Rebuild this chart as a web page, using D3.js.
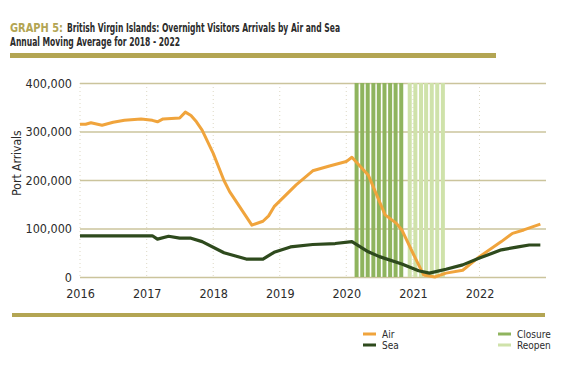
<!DOCTYPE html>
<html>
<head>
<meta charset="utf-8">
<script src="https://cdn.jsdelivr.net/npm/d3@7"></script>
<style>
    body { margin: 0; background: #fff; }
    svg text { font-family: "DejaVu Sans Condensed", "Liberation Sans Narrow", "Roboto", sans-serif; fill: #2b2b2b; }
</style>
</head>
<body>
<svg id="chart" width="575" height="371"></svg>
<script>

    // annual moving average
    var airMonths = ["2016-01","2016-02","2016-03","2016-05","2016-07","2016-09","2016-12","2017-02","2017-03","2017-04",
                     "2017-07","2017-08","2017-09","2017-10","2017-11","2018-01","2018-03","2018-04","2018-08","2018-10",
                     "2018-11","2018-12","2019-04","2019-07","2019-10","2020-01","2020-02","2020-05","2020-08","2020-10",
                     "2020-11","2021-01","2021-03","2021-05","2021-07","2021-10","2022-01","2022-05","2022-07","2022-09","2022-12"];
    var airValues = [315000,315000,318000,313000,319000,323000,326000,323000,320000,326000,
                     328000,340000,333000,320000,303000,255000,199000,176000,107000,115000,
                     126000,145000,190000,219000,229000,238000,247000,210000,128000,111000,
                     97000,49000,4000,0,8000,14000,42000,73000,90000,97000,109000];

    var seaMonths = ["2016-01","2017-02","2017-03","2017-05","2017-07","2017-09","2017-11","2018-03","2018-07","2018-10",
                     "2018-12","2019-03","2019-07","2019-11","2020-02","2020-05","2020-07","2020-11","2021-02","2021-04",
                     "2021-07","2021-10","2022-01","2022-05","2022-08","2022-10","2022-12"];
    var seaValues = [85000,85000,78000,84000,80000,80000,73000,50000,37000,37000,
                     51000,62000,67000,69000,73000,52000,42000,27000,13000,8000,
                     16000,25000,39000,56000,62000,66000,66000];

    var closureMonths = ["2020-03","2020-04","2020-05","2020-06","2020-07","2020-08","2020-09","2020-10","2020-11"];
    var reopenMonths  = ["2020-12","2021-01","2021-02","2021-03","2021-04","2021-05","2021-06"];

    var yearTicks = [2016, 2017, 2018, 2019, 2020, 2021, 2022];
    var valueTicks = [0, 100000, 200000, 300000, 400000];

    var colors = {
        gold    : "#b3a553",
        grid    : "#cbc49c",
        air     : "#f0a43c",
        sea     : "#2e4a1d",
        closure : "#8fb45e",
        reopen  : "#cfe2aa"
    };

    var parse = d3.timeParse("%Y-%m");

    var svg = d3.select("#chart");

    var x = d3.scaleTime()
        .domain([new Date(2016, 0, 1), new Date(2023, 0, 1)])
        .range([80, 546]);

    var y = d3.scaleLinear()
        .domain([0, 400000])
        .range([277, 83]);

    function zip (months, values) {
        return months.map(function (m, i) { return { date: parse(m), value: values[i] }; });
    }

    // header, squeezed to the width of the condensed face in the original
    function heading (txt, px, py, width, color) {
        return svg.append("text")
            .attr("x", px)
            .attr("y", py)
            .attr("textLength", width)
            .attr("lengthAdjust", "spacingAndGlyphs")
            .style("font-size", "12px")
            .style("font-weight", "bold")
            .style("fill", color || "#2b2b2b")
            .text(txt);
    }

    heading("GRAPH 5:", 10, 31.5, 53, colors.gold);
    heading("British Virgin Islands: Overnight Visitors Arrivals by Air and Sea", 67, 31.5, 273);
    heading("Annual Moving Average for 2018 - 2022", 10, 45.5, 170);

    svg.append("rect")
        .attr("x", 10).attr("y", 53)
        .attr("width", 486).attr("height", 5)
        .attr("fill", colors.gold);

    svg.append("rect")
        .attr("x", 12).attr("y", 313)
        .attr("width", 533).attr("height", 4)
        .attr("fill", colors.gold);

    // faint dotted year lines
    svg.append("g")
        .selectAll("line")
        .data(yearTicks)
        .enter()
        .append("line")
        .attr("x1", function (d) { return x(new Date(d, 0, 1)); })
        .attr("x2", function (d) { return x(new Date(d, 0, 1)); })
        .attr("y1", y(400000))
        .attr("y2", y(0))
        .attr("stroke", "#ddd8c4")
        .attr("stroke-width", 1)
        .attr("stroke-dasharray", "1,3");

    // horizontal grid + value labels
    var yAxis = svg.append("g")
        .attr("transform", "translate(80,0)")
        .call(d3.axisLeft(y)
            .tickValues(valueTicks)
            .tickSize(-466)
            .tickPadding(8)
            .tickFormat(d3.format(",")));

    yAxis.select(".domain").remove();
    yAxis.selectAll(".tick line").attr("stroke", colors.grid).attr("stroke-width", 1.3);
    yAxis.selectAll(".tick text").style("font-size", "12.5px").attr("fill", "#2b2b2b");

    var xAxis = svg.append("g")
        .attr("transform", "translate(0,283)")
        .call(d3.axisBottom(x)
            .tickValues(yearTicks.map(function (d) { return new Date(d, 0, 1); }))
            .tickSize(0)
            .tickPadding(6)
            .tickFormat(d3.timeFormat("%Y")));

    xAxis.select(".domain").remove();
    xAxis.selectAll(".tick text").style("font-size", "12.5px").attr("fill", "#2b2b2b");

    svg.append("text")
        .attr("transform", "translate(21,163) rotate(-90)")
        .attr("text-anchor", "middle")
        .style("font-size", "12px")
        .text("Port Arrivals");

    // closure / reopen stripes, one per month
    function stripes (months, color, shift) {
        svg.append("g")
            .selectAll("rect")
            .data(months.map(parse))
            .enter()
            .append("rect")
            .attr("x", function (d) { return x(d) + shift; })
            .attr("y", y(400000))
            .attr("width", 4)
            .attr("height", y(0) - y(400000))
            .attr("fill", color);
    }

    stripes(closureMonths, colors.closure, -2.6);
    stripes(reopenMonths, colors.reopen, 0.4);

    var line = d3.line()
        .x(function (d) { return x(d.date); })
        .y(function (d) { return y(d.value); });

    svg.append("path")
        .datum(zip(airMonths, airValues))
        .attr("d", line)
        .attr("fill", "none")
        .attr("stroke", colors.air)
        .attr("stroke-width", 3)
        .attr("stroke-linejoin", "round");

    svg.append("path")
        .datum(zip(seaMonths, seaValues))
        .attr("d", line)
        .attr("fill", "none")
        .attr("stroke", colors.sea)
        .attr("stroke-width", 3.2)
        .attr("stroke-linejoin", "round");

    // legend
    var legend = [
        { name: "Air",     color: colors.air,     x: 363, y: 334 },
        { name: "Sea",     color: colors.sea,     x: 363, y: 345 },
        { name: "Closure", color: colors.closure, x: 498, y: 334 },
        { name: "Reopen",  color: colors.reopen,  x: 498, y: 345 }
    ];

    var items = svg.append("g")
        .selectAll("g")
        .data(legend)
        .enter()
        .append("g")
        .attr("transform", function (d) { return "translate(" + d.x + "," + d.y + ")"; });

    items.append("rect")
        .attr("x", 0).attr("y", -1.5)
        .attr("width", 13).attr("height", 3)
        .attr("fill", function (d) { return d.color; });

    items.append("text")
        .attr("x", 19)
        .attr("y", 3.5)
        .style("font-size", "10px")
        .text(function (d) { return d.name; });

</script>
</body>
</html>
